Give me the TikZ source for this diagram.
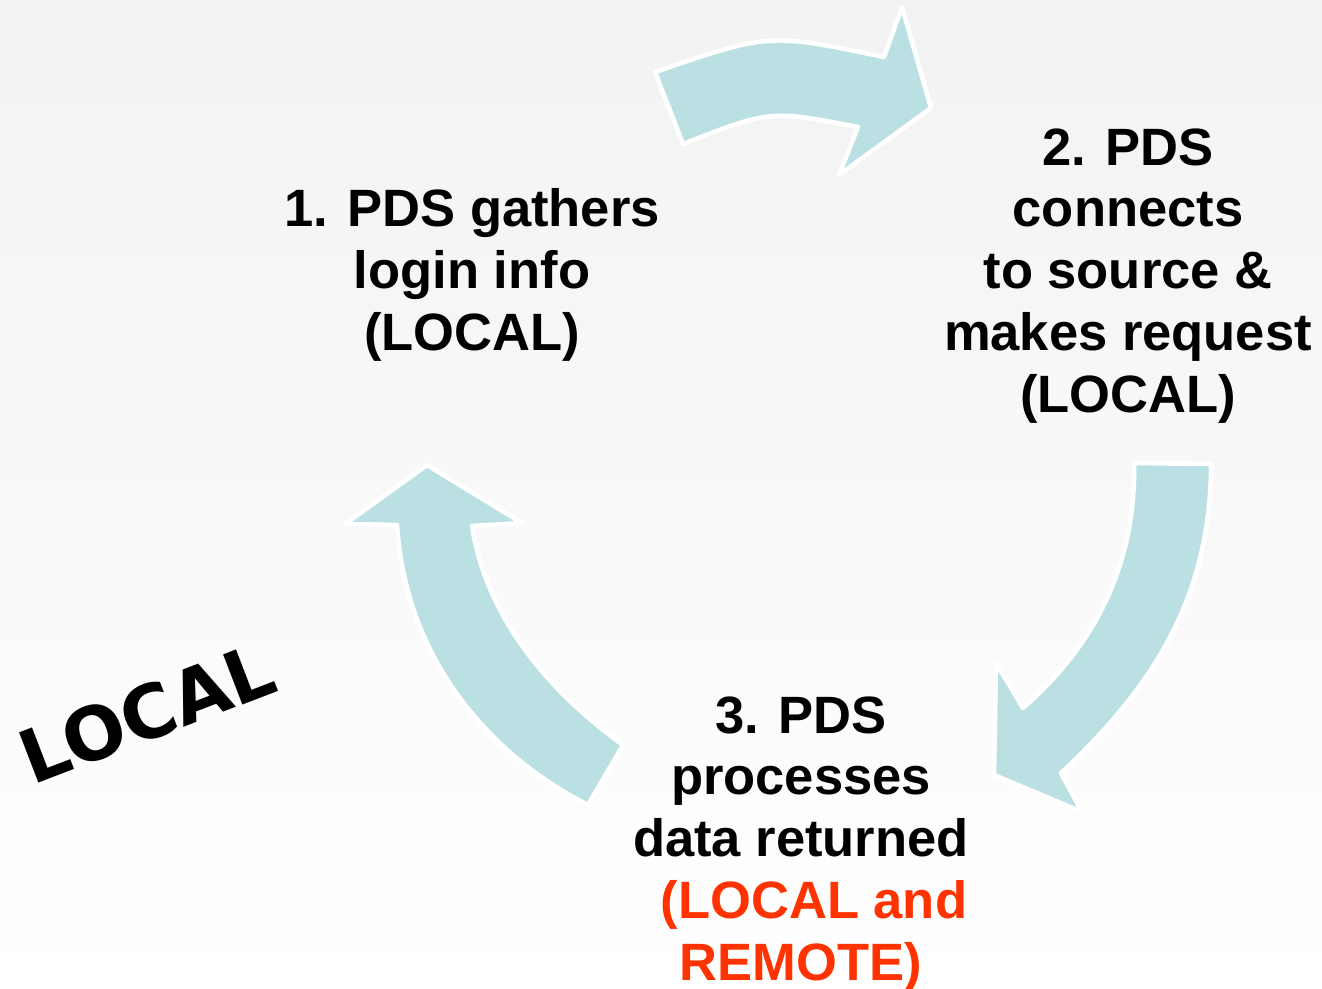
\documentclass[tikz,border=0pt]{standalone}
\usepackage{fontspec}
\setmainfont{Liberation Sans}
\newfontfamily\stampfont{DejaVu Sans}
\definecolor{arrowblue}{RGB}{187,224,227}
\definecolor{remotered}{RGB}{255,51,0}

\begin{document}
\begin{tikzpicture}[x=0.02cm,y=-0.02cm,
        cyclearrow/.style={fill=arrowblue,draw=white,line width=2.6pt,line join=round},
        steptext/.style={align=center,inner sep=0pt,anchor=north,font=\fontsize{29.9}{35.2}\selectfont\bfseries}]
        \shade[top color=black!5,bottom color=white] (0,0) rectangle (1322,989);
        \useasboundingbox (0,0) rectangle (1322,989);

        \draw[cyclearrow] (655,72) .. controls (769,33) .. (884,57) -- (902,7) -- (931,108)
            -- (839,175) -- (858,127) .. controls (770,110) .. (683,144) -- cycle;
        \draw[cyclearrow] (1134,463) -- (1211,464) .. controls (1211,600) and (1150,690) .. (1061,773)
            -- (1082,812) -- (994,775) -- (996,663) -- (1023,708)
            .. controls (1095,645) and (1136,565) .. cycle;
        \draw[cyclearrow] (623,745) -- (588,805) .. controls (480,750) and (405,650) .. (397,525)
            -- (345,524) -- (427,465) -- (522,523) -- (472,526)
            .. controls (485,610) and (540,685) .. cycle;

        \node[steptext] (gather) at (472,188) {1. PDS gathers\\login info\\(LOCAL)};
        \node[steptext] (connect) at (1128,128) {2. PDS\\connects\\to source \&\\makes request\\(LOCAL)};
        \node[steptext] (process) at (801,696) {3. PDS\\processes\\data returned\\
            \textcolor{remotered}{\hspace*{0.52cm}(LOCAL and}\\\textcolor{remotered}{REMOTE)}};
        \node[rotate=21,font=\stampfont\fontsize{42}{50}\selectfont\bfseries] (local) at (147,713) {LOCAL};
    \end{tikzpicture}
\end{document}
